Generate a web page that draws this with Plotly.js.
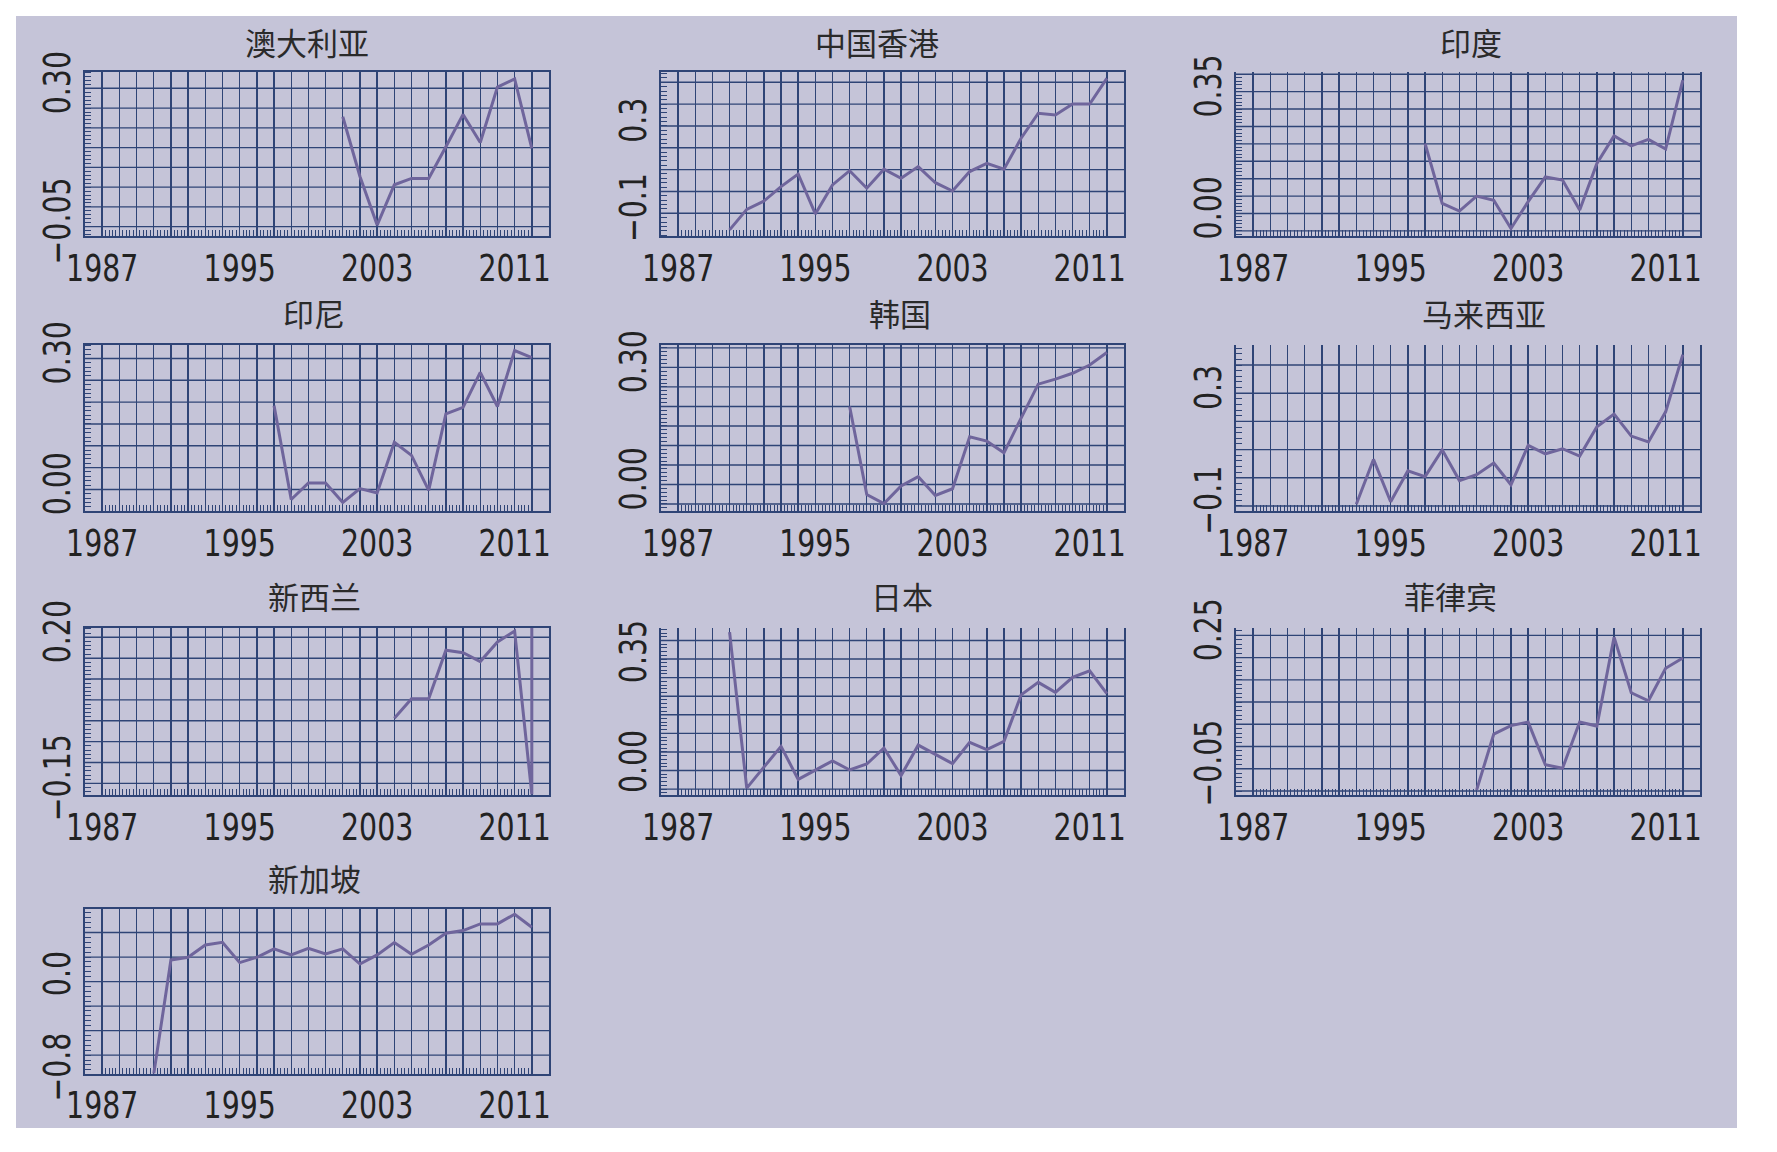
<!DOCTYPE html>
<html><head><meta charset="utf-8">
<script src="https://cdn.plot.ly/plotly-3.0.1.min.js"></script>
<style>html,body{margin:0;padding:0;background:#fff}#chart{width:1777px;height:1152px}</style>
</head><body><div id="chart"></div>
<script>
// ---------- data ----------
const titles = ['澳大利亚','中国香港','印度','印尼','韩国','马来西亚','新西兰','日本','菲律宾','新加坡'];
const xTickYears = [1987,1995,2003,2011];
const xTickText = ['1987','1995','2003','2011'];

const ausYears = [2001,2002,2003,2004,2005,2006,2007,2008,2009,2010,2011,2012];
const ausValues = [0.228,0.077,-0.046,0.056,0.072,0.072,0.152,0.234,0.163,0.303,0.324,0.148];
const ausTicks = [0.30,-0.05], ausTickText = ['0.30','−0.05'];

const hkgYears = [1990,1991,1992,1993,1994,1995,1996,1997,1998,1999,2000,2001,2002,2003,2004,2005,2006,2007,2008,2009,2010,2011,2012];
const hkgValues = [-0.176,-0.082,-0.044,0.022,0.080,-0.103,0.030,0.095,0.015,0.102,0.060,0.114,0.040,0.002,0.091,0.129,0.102,0.244,0.358,0.350,0.400,0.400,0.518];
const hkgTicks = [0.3,-0.1], hkgTickText = ['0.3','−0.1'];

const indYears = [1997,1998,1999,2000,2001,2002,2003,2004,2005,2006,2007,2008,2009,2010,2011,2012];
const indValues = [0.201,0.029,0.007,0.050,0.038,-0.043,0.034,0.105,0.096,0.010,0.144,0.223,0.194,0.213,0.185,0.383];
const indTicks = [0.35,0.00], indTickText = ['0.35','0.00'];

const idnYears = [1997,1998,1999,2000,2001,2002,2003,2004,2005,2006,2007,2008,2009,2010,2011,2012];
const idnValues = [0.192,-0.023,0.015,0.015,-0.030,0.002,-0.008,0.108,0.078,-0.002,0.173,0.188,0.268,0.190,0.318,0.302];
const idnTicks = [0.30,0.00], idnTickText = ['0.30','0.00'];

const korYears = [1997,1998,1999,2000,2001,2002,2003,2004,2005,2006,2007,2008,2009,2010,2011,2012];
const korValues = [0.200,-0.026,-0.049,-0.004,0.020,-0.028,-0.011,0.122,0.111,0.081,0.170,0.257,0.270,0.285,0.306,0.338];
const korTicks = [0.30,0.00], korTickText = ['0.30','0.00'];

const mysYears = [1993,1994,1995,1996,1997,1998,1999,2000,2001,2002,2003,2004,2005,2006,2007,2008,2009,2010,2011,2012];
const mysValues = [-0.094,0.065,-0.085,0.025,0.004,0.099,-0.010,0.011,0.052,-0.025,0.115,0.085,0.103,0.077,0.181,0.226,0.148,0.127,0.234,0.437];
const mysTicks = [0.3,-0.1], mysTickText = ['0.3','−0.1'];

const nzlYears = [2004,2005,2006,2007,2008,2009,2010,2011,2012,2012];
const nzlValues = [0.006,0.053,0.053,0.169,0.163,0.142,0.189,0.215,-0.176,0.24];
const nzlTicks = [0.20,-0.15], nzlTickText = ['0.20','−0.15'];

const jpnYears = [1990,1991,1992,1993,1994,1995,1996,1997,1998,1999,2000,2001,2002,2003,2004,2005,2006,2007,2008,2009,2010,2011,2012];
const jpnValues = [0.430,-0.067,0.000,0.066,-0.039,-0.009,0.020,-0.009,0.010,0.061,-0.027,0.070,0.040,0.011,0.079,0.056,0.082,0.230,0.270,0.238,0.286,0.307,0.234];
const jpnTicks = [0.35,0.00], jpnTickText = ['0.35','0.00'];

const phlYears = [2000,2001,2002,2003,2004,2005,2006,2007,2008,2009,2010,2011,2012];
const phlValues = [-0.098,0.028,0.047,0.055,-0.041,-0.049,0.055,0.046,0.246,0.121,0.103,0.176,0.199];
const phlTicks = [0.25,-0.05], phlTickText = ['0.25','−0.05'];

const sgpYears = [1990,1991,1992,1993,1994,1995,1996,1997,1998,1999,2000,2001,2002,2003,2004,2005,2006,2007,2008,2009,2010,2011,2012];
const sgpValues = [-0.81,0.166,0.189,0.294,0.317,0.143,0.189,0.260,0.209,0.266,0.217,0.260,0.131,0.209,0.314,0.214,0.294,0.394,0.417,0.474,0.474,0.557,0.446];
const sgpTicks = [0.0,-0.8], sgpTickText = ['0.0','−0.8'];

// ---------- panel settings (axes / layout) ----------
const panels = [
  {x:ausYears,y:ausValues,tv:ausTicks,tt:ausTickText,col:0,row:0,yr:[-0.0736,0.3413],g0:0.30,gs:0.05,gn:8,tx:307,top:true},
  {x:hkgYears,y:hkgValues,tv:hkgTicks,tt:hkgTickText,col:1,row:0,yr:[-0.204,0.547],g0:0.5,gs:0.1,gn:7,tx:877,top:true},
  {x:indYears,y:indValues,tv:indTicks,tt:indTickText,col:2,row:0,yr:[-0.0647,0.4065],g0:0.40,gs:0.05,gn:10,tx:1471,top:false},
  {x:idnYears,y:idnValues,tv:idnTicks,tt:idnTickText,col:0,row:1,yr:[-0.0494,0.332],g0:0.30,gs:0.05,gn:7,tx:314,top:true},
  {x:korYears,y:korValues,tv:korTicks,tt:korTickText,col:1,row:1,yr:[-0.068,0.3587],g0:0.35,gs:0.05,gn:9,tx:900,top:true},
  {x:mysYears,y:mysValues,tv:mysTicks,tt:mysTickText,col:2,row:1,yr:[-0.118,0.473],g0:0.4,gs:0.1,gn:6,tx:1484,top:false},
  {x:nzlYears,y:nzlValues,tv:nzlTicks,tt:nzlTickText,col:0,row:2,yr:[-0.1778,0.2223],g0:0.20,gs:0.05,gn:8,tx:314,top:true},
  {x:jpnYears,y:jpnValues,tv:jpnTicks,tt:jpnTickText,col:1,row:2,yr:[-0.0888,0.4431],g0:0.4035,gs:0.0592,gn:9,tx:902,top:false},
  {x:phlYears,y:phlValues,tv:phlTicks,tt:phlTickText,col:2,row:2,yr:[-0.109,0.2666],g0:0.25,gs:0.05,gn:8,tx:1450,top:false},
  {x:sgpYears,y:sgpValues,tv:sgpTicks,tt:sgpTickText,col:0,row:3,yr:[-0.806,0.606],g0:0.4,gs:0.2097,gn:6,tx:314,top:true}
];

const W = 1777, H = 1152;
const colX = [[85,549],[661,1124],[1236,1700]];
const rowY = [[72,236],[344.5,511],[628,795],[908.5,1073.5]];
const titleY = [41,313,595,877];

const NAVY = '#2f4476', PLOTBG = '#e0dfec', OUTER = '#c5c4d8', LINE = '#6f659c', TXT = '#222222';
const tickFont = {family:'DejaVu Sans Condensed, Liberation Sans, Arial, sans-serif', size:38, color:TXT};

// gridline years & minor tick positions
const gridYears = []; for (let yy=1987; yy<=2012; yy++) gridYears.push(yy);
const gridText = gridYears.map(yy => { const i = xTickYears.indexOf(yy); return i>=0 ? xTickText[i] : ''; });
const xMinor = []; for (let yy=1987; yy<2012; yy++) for (let k=1;k<5;k++) xMinor.push(+(yy+k*0.2).toFixed(2));

const traces = [], shapes = [], annotations = [];
const layout = {
  width: W, height: H, margin:{l:0,r:0,t:0,b:0}, showlegend:false,
  paper_bgcolor:'#ffffff', plot_bgcolor: PLOTBG, font:{family:'Liberation Sans', color:TXT}
};

shapes.push({type:'rect', xref:'paper', yref:'paper', x0:16/W, x1:1737/W, y0:1-1128/H, y1:1-16/H,
  fillcolor:OUTER, line:{width:0}, layer:'below'});

panels.forEach((p, i) => {
  const n = i+1, xa = 'xaxis'+(n===1?'':n), ya = 'yaxis'+(n===1?'':n);
  const xr = 'x'+(n===1?'':n), yr = 'y'+(n===1?'':n);
  const cx = colX[p.col], ry = rowY[p.row];
  traces.push({type:'scatter', mode:'lines', x:p.x, y:p.y, xaxis:xr, yaxis:yr,
    line:{color:LINE, width:3}, hoverinfo:'skip'});
  const yMinor = []; const s = p.gs/5;
  for (let k=-200; k<=200; k++) { const v = p.g0 + k*s; if (v>p.yr[0] && v<p.yr[1]) yMinor.push(+v.toFixed(6)); }
  layout[xa] = {domain:[cx[0]/W, cx[1]/W], range:[1986,2013], anchor:yr,
    tickmode:'array', tickvals:gridYears, ticktext:gridText, ticks:'',
    showgrid:true, gridcolor:NAVY, gridwidth:1.4, zeroline:false,
    showline:true, mirror:p.top, linecolor:NAVY, linewidth:2,
    tickfont:tickFont, ticklabelstandoff:-3,
    minor:{tickmode:'array', tickvals:xMinor, ticks:'inside', ticklen:6, tickwidth:1, tickcolor:NAVY, showgrid:false},
    fixedrange:true};
  layout[ya] = {domain:[1-ry[1]/H, 1-ry[0]/H], range:p.yr, anchor:xr,
    tickmode:'array', tickvals:p.tv, ticktext:p.tt, ticks:'', tickangle:-90,
    showgrid:false, zeroline:false,
    showline:true, mirror:true, linecolor:NAVY, linewidth:2,
    tickfont:tickFont, ticklabelstandoff:-2,
    minor:{tickmode:'array', tickvals:yMinor, ticks:'inside', ticklen:6, tickwidth:1, tickcolor:NAVY, showgrid:false},
    fixedrange:true};
  for (let k=0; k<p.gn; k++) {
    const v = p.g0 - k*p.gs;
    shapes.push({type:'line', xref:xr+' domain', yref:yr, x0:0, x1:1, y0:v, y1:v,
      line:{color:NAVY, width:1.4}, layer:'below'});
  }
  annotations.push({text:titles[i], xref:'paper', yref:'paper', x:p.tx/W, y:1-titleY[p.row]/H,
    xanchor:'center', yanchor:'middle', showarrow:false,
    font:{family:'Noto Sans CJK SC', size:31, color:'#2a2a2a'}});
});

layout.shapes = shapes;
layout.annotations = annotations;
Plotly.newPlot('chart', traces, layout, {staticPlot:true}).then(() => {
  // narrow the tick-label glyphs to match the condensed face of the original
  document.querySelectorAll('.xaxislayer-above text, .yaxislayer-above text').forEach(t => {
    const w = t.getComputedTextLength();
    if (w > 0) { t.setAttribute('textLength', (w*0.83).toFixed(1)); t.setAttribute('lengthAdjust', 'spacingAndGlyphs'); }
  });
});
</script>
</body></html>
